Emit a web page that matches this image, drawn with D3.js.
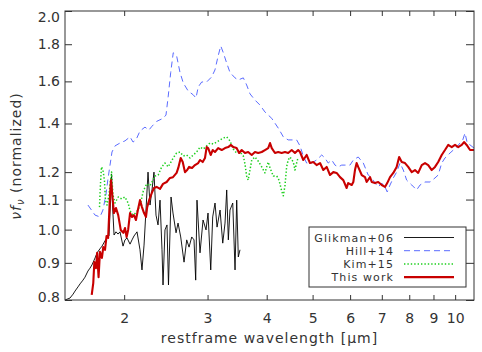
<!DOCTYPE html>
<html><head><meta charset="utf-8">
<script src="https://cdn.jsdelivr.net/npm/d3@7"></script>
<style>
body{margin:0;background:#fff}
svg{display:block}
text{font-family:"DejaVu Sans",sans-serif;fill:#333}
</style>
</head><body>
<svg id="c" width="482" height="352"></svg>
<script>
// ---- data ----
const xTicks = [2,3,4,5,6,7,8,9,10];
const yTicks = [0.8,0.9,1.0,1.1,1.2,1.4,1.6,1.8,2.0];
const yTickLabels = ["0.8","0.9","1.0","1.1","1.2","1.4","1.6","1.8","2.0"];
const seriesNames = ["Glikman+06","Hill+14","Kim+15","This work"];

const glikmanWave = [1.500,1.522,1.537,1.560,1.575,1.598,1.614,1.637,1.653,1.677,
 1.694,1.710,1.736,1.753,1.778,1.796,1.822,1.840,1.858,1.872,
 1.881,1.890,1.904,1.922,1.941,1.960,1.989,2.008,2.028,2.058,
 2.078,2.098,2.129,2.160,2.181,2.203,2.224,2.246,2.268,2.290,
 2.312,2.335,2.358,2.381,2.404,2.416,2.439,2.463,2.481,2.512,
 2.536,2.574,2.599,2.633,2.676,2.711,2.742,2.778,2.809,2.832,
 2.850,2.892,2.935,2.978,3.007,3.047,3.076,3.111,3.142,3.188,
 3.230,3.266,3.293,3.319,3.346,3.391,3.429,3.457,3.484,3.513];
const glikmanFlux = [0.800,0.803,0.805,0.815,0.823,0.834,0.842,0.852,0.860,0.877,
 0.885,0.894,0.914,0.929,0.941,0.949,0.965,0.974,0.980,1.098,
 1.193,1.081,0.983,0.993,0.986,0.993,0.949,0.968,0.974,0.955,
 0.968,0.980,0.993,0.938,0.880,0.952,1.064,1.200,1.081,1.134,
 1.200,1.047,1.015,1.098,0.938,0.839,0.999,1.015,0.839,1.109,
 1.054,0.990,1.021,0.977,0.902,0.968,0.946,0.977,0.968,0.852,
 1.098,0.929,1.031,0.999,1.054,0.880,1.041,1.088,1.008,1.064,
 0.958,1.021,1.134,0.968,1.064,1.088,0.880,1.098,0.917,0.938];

const hillWave = [1.677,1.694,1.736,1.778,1.804,1.830,1.847,1.867,1.885,1.913,
 1.960,2.008,2.058,2.088,2.118,2.160,2.213,2.255,2.290,2.345,
 2.416,2.451,2.477,2.508,2.539,2.581,2.624,2.666,2.730,2.799,
 2.836,2.867,2.916,2.987,3.061,3.110,3.159,3.199,3.239,3.292,
 3.346,3.428,3.482,3.570,3.628,3.688,3.778,3.872,3.966,4.099,
 4.230,4.336,4.440,4.627,4.703,4.779,4.857,4.978,5.098,5.227,
 5.310,5.394,5.487,5.575,5.662,5.760,5.852,5.998,6.095,6.241,
 6.398,6.552,6.666,6.772,6.879,6.998,7.109,7.187,7.286,7.403,
 7.524,7.649,7.772,7.899,8.097,8.293,8.431,8.637,8.851,9.067,
 9.209,9.368,9.518,9.755,9.912,10.074,10.241,10.376,10.491,10.606,
 10.751,10.963];
const hillFlux = [1.081,1.071,1.047,1.041,1.064,1.116,1.170,1.227,1.279,1.304,
 1.316,1.325,1.342,1.320,1.329,1.367,1.384,1.371,1.388,1.410,
 1.423,1.438,1.523,1.646,1.752,1.735,1.646,1.592,1.552,1.533,
 1.518,1.572,1.597,1.597,1.623,1.659,1.735,1.790,1.752,1.696,
 1.646,1.618,1.607,1.618,1.582,1.538,1.508,1.484,1.452,1.423,
 1.380,1.342,1.329,1.329,1.304,1.263,1.235,1.235,1.247,1.267,
 1.255,1.235,1.247,1.227,1.220,1.227,1.227,1.227,1.247,1.259,
 1.235,1.189,1.178,1.159,1.145,1.159,1.145,1.127,1.152,1.178,
 1.200,1.235,1.208,1.170,1.152,1.134,1.152,1.163,1.163,1.178,
 1.189,1.235,1.255,1.275,1.287,1.299,1.316,1.329,1.358,1.316,
 1.308,1.295];

const kimWave = [1.774,1.782,1.791,1.804,1.817,1.826,1.840,1.858,1.872,1.881,
 1.894,1.913,1.943,1.976,2.008,2.039,2.058,2.091,2.125,2.160,
 2.195,2.231,2.268,2.323,2.360,2.401,2.439,2.477,2.539,2.581,
 2.624,2.666,2.710,2.755,2.799,2.845,2.892,2.939,2.987,3.036,
 3.085,3.135,3.188,3.239,3.292,3.346,3.400,3.455,3.513,3.570,
 3.599,3.628,3.655,3.688,3.719,3.778,3.837,3.904,3.966,3.999,
 4.029,4.065,4.130,4.198,4.230,4.267,4.302,4.336,4.371,4.407,
 4.440,4.480,4.552,4.589,4.627,4.661];
const kimFlux = [1.074,1.152,1.220,1.208,1.170,1.098,1.081,1.116,1.170,1.200,
 1.116,1.088,1.109,1.102,1.109,1.088,1.061,1.047,1.058,1.078,
 1.130,1.156,1.149,1.185,1.189,1.220,1.235,1.220,1.255,1.275,
 1.279,1.263,1.267,1.255,1.267,1.279,1.299,1.291,1.304,1.316,
 1.312,1.320,1.329,1.337,1.342,1.325,1.291,1.275,1.279,1.263,
 1.231,1.185,1.170,1.208,1.247,1.259,1.243,1.220,1.197,1.220,
 1.239,1.216,1.185,1.185,1.178,1.156,1.130,1.113,1.149,1.220,
 1.247,1.259,1.239,1.208,1.235,1.259];

const thisWave = [1.708,1.721,1.730,1.744,1.754,1.766,1.778,1.795,1.807,1.822,
 1.836,1.850,1.867,1.876,1.888,1.903,1.922,1.943,1.967,1.992,
 2.008,2.024,2.039,2.058,2.078,2.098,2.118,2.138,2.160,2.181,
 2.203,2.224,2.237,2.258,2.287,2.312,2.342,2.381,2.416,2.459,
 2.499,2.536,2.581,2.602,2.633,2.659,2.688,2.717,2.743,2.782,
 2.822,2.867,2.892,2.930,2.963,2.987,3.009,3.046,3.076,3.110,
 3.159,3.214,3.266,3.317,3.362,3.400,3.455,3.498,3.542,3.599,
 3.655,3.719,3.778,3.837,3.904,3.966,4.029,4.065,4.099,4.164,
 4.230,4.302,4.371,4.440,4.517,4.589,4.661,4.703,4.779,4.857,
 4.937,5.016,5.098,5.184,5.267,5.354,5.442,5.530,5.620,5.713,
 5.805,5.900,5.944,6.048,6.095,6.144,6.194,6.241,6.349,6.451,
 6.503,6.611,6.666,6.772,6.879,6.998,7.109,7.187,7.286,7.403,
 7.524,7.616,7.712,7.836,7.959,8.097,8.226,8.355,8.501,8.637,
 8.772,8.924,9.067,9.209,9.368,9.518,9.667,9.836,9.993,10.150,
 10.326,10.441,10.576,10.751,10.963];
const thisFlux = [0.813,0.844,0.902,0.885,0.929,0.860,0.932,0.914,0.946,0.938,
 0.980,0.974,1.116,1.170,1.116,1.054,1.071,1.047,0.999,0.990,
 1.005,0.977,0.999,1.054,1.041,1.047,1.031,1.064,1.098,1.074,
 1.054,1.041,1.074,1.098,1.123,1.141,1.145,1.138,1.156,1.163,
 1.178,1.181,1.197,1.216,1.255,1.239,1.200,1.208,1.220,1.216,
 1.227,1.235,1.247,1.239,1.255,1.299,1.295,1.267,1.287,1.279,
 1.295,1.287,1.295,1.299,1.308,1.299,1.295,1.275,1.287,1.275,
 1.279,1.267,1.279,1.275,1.279,1.287,1.295,1.316,1.295,1.275,
 1.279,1.275,1.279,1.275,1.287,1.275,1.287,1.279,1.247,1.267,
 1.235,1.239,1.227,1.235,1.208,1.220,1.189,1.200,1.197,1.181,
 1.170,1.141,1.159,1.152,1.163,1.208,1.235,1.220,1.189,1.181,
 1.163,1.181,1.163,1.159,1.163,1.152,1.145,1.159,1.181,1.197,
 1.220,1.259,1.239,1.235,1.220,1.200,1.208,1.197,1.227,1.235,
 1.227,1.208,1.220,1.239,1.267,1.287,1.308,1.299,1.308,1.299,
 1.308,1.320,1.308,1.287,1.287];

// ---- chart ----
const L = 65, R = 474, T = 11, B = 300;
const svg = d3.select("#c");
const x = d3.scaleLog().domain([1.5, 10.96]).range([L, R]);
const y = d3.scaleLog().domain([0.8, 2.0]).range([B, T]);

const styles = [
  {wave: glikmanWave, flux: glikmanFlux, color: "#000", width: 0.9, dash: null},
  {wave: hillWave, flux: hillFlux, color: "#5b6cff", width: 1, dash: "6,4"},
  {wave: kimWave, flux: kimFlux, color: "#1ccf1c", width: 1.5, dash: "1.4,2"},
  {wave: thisWave, flux: thisFlux, color: "#c80000", width: 2.1, dash: null}
];

svg.append("clipPath").attr("id","clip").append("rect")
  .attr("x", L).attr("y", T).attr("width", R-L).attr("height", B-T);

const line = d3.line().x(d => x(d[0])).y(d => y(d[1]));
const g = svg.append("g").attr("clip-path","url(#clip)");
styles.forEach(s => {
  g.append("path")
    .datum(d3.zip(s.wave, s.flux))
    .attr("d", line)
    .attr("fill","none")
    .attr("stroke", s.color)
    .attr("stroke-width", s.width)
    .attr("stroke-linejoin","round")
    .attr("stroke-dasharray", s.dash);
});

// axes
const axStyle = sel => {
  sel.select(".domain").remove();
  sel.selectAll(".tick line").attr("stroke","#333");
  sel.selectAll("text").attr("font-size",14).attr("fill","#333")
     .attr("font-family","DejaVu Sans, sans-serif");
};
svg.append("g").attr("transform",`translate(0,${B})`)
  .call(d3.axisBottom(x).tickValues(xTicks).tickFormat(d3.format("d")).tickSize(-5).tickPadding(13))
  .call(axStyle);
svg.append("g").attr("transform",`translate(0,${T})`)
  .call(d3.axisTop(x).tickValues(xTicks).tickFormat("").tickSize(-5))
  .call(axStyle);
const yl = svg.append("g").attr("transform",`translate(${L},0)`)
  .call(d3.axisLeft(y).tickValues(yTicks).tickFormat((d,i) => yTickLabels[i]).tickSize(-7).tickPadding(5))
  .call(axStyle);
yl.selectAll(".tick text").attr("dy", d => d === 2.0 ? "0.75em" : d === 0.8 ? "0.1em" : "0.32em");
svg.append("g").attr("transform",`translate(${R},0)`)
  .call(d3.axisRight(y).tickValues(yTicks).tickFormat("").tickSize(-8))
  .call(axStyle);

// frame
svg.append("rect").attr("x", L).attr("y", T).attr("width", R-L).attr("height", B-T)
  .attr("fill","none").attr("stroke","#333").attr("stroke-width",1);

// axis titles
svg.append("text").attr("x",(L+R)/2).attr("y",343).attr("text-anchor","middle")
  .attr("font-size",14).attr("letter-spacing","1px").text("restframe wavelength [μm]");
const yt = svg.append("text").attr("transform","translate(21,156) rotate(-90)")
  .attr("text-anchor","middle").attr("font-size",14).attr("letter-spacing","1px");
yt.append("tspan").attr("font-style","italic").text("νf");
yt.append("tspan").attr("font-style","italic").attr("font-size",10).attr("dy",3).text("ν");
yt.append("tspan").attr("dy",-3).text(" (normalized)");

// legend
const lg = svg.append("g");
lg.append("rect").attr("x",309).attr("y",227).attr("width",157).attr("height",60)
  .attr("fill","#fff").attr("stroke","#333").attr("stroke-width",1);
seriesNames.forEach((n,i) => {
  const yy = 241.5 + i*13.2;
  lg.append("text").attr("x",394).attr("y",yy).attr("text-anchor","end")
    .attr("font-size",11).attr("letter-spacing","1.1px").text(n);
  lg.append("line").attr("x1",404).attr("x2",454).attr("y1",yy-4).attr("y2",yy-4)
    .attr("stroke",styles[i].color).attr("stroke-width",styles[i].width)
    .attr("stroke-dasharray",styles[i].dash);
});
</script>
</body></html>
